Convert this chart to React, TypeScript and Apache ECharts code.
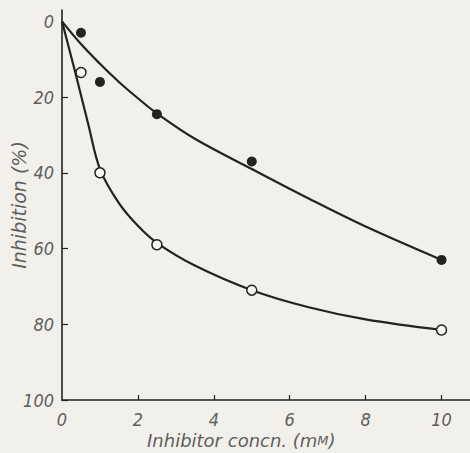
import React, { useEffect, useRef } from "react";
import * as echarts from "echarts";

// Inhibitor concentration (mM) at which inhibition was measured
const concentrations = [0.5, 1, 2.5, 5, 10];
// Measured inhibition (%), filled-circle series
const filledInhibition = [3, 16, 24.5, 37, 63];
// Measured inhibition (%), open-circle series
const openInhibition = [13.5, 40, 59, 71, 81.5];

// Hand-fitted curves drawn through each series (x = mM, y = %)
const filledCurveX = [0, 0.5, 1, 1.5, 2, 2.5, 3.5, 5, 6.5, 8, 10];
const filledCurveY = [0, 6, 11.2, 16, 20.3, 24.3, 31, 39, 46.8, 54.2, 63];
const openCurveX = [0, 0.35, 0.7, 1, 1.5, 2, 2.5, 3.5, 5, 6.5, 8, 10];
const openCurveY = [0, 13.5, 27.5, 39, 48, 54, 58.5, 64.5, 71, 75.5, 78.7, 81.5];

// Axis labels and ticks
const xLabels = [0, 2, 4, 6, 8, 10];
const xTicks = [2, 4, 6, 8, 10];
const yLabels = [0, 20, 40, 60, 80, 100];

const INK = "#222222";
const LABEL = "#5e5e5e";
const PAPER = "#f2f0eb";
const NUM_FONT = "'Liberation Sans Narrow', 'DejaVu Sans Condensed', sans-serif";
const TITLE_FONT = "'DejaVu Sans', sans-serif";

const pairs = (xs: number[], ys: number[]) => xs.map((x, i) => [x, ys[i]]);

const numLabel = {
  color: LABEL,
  fontStyle: "italic",
  fontSize: 18,
  fontFamily: NUM_FONT,
};

export default function App() {
  const ref = useRef<HTMLDivElement>(null);

  useEffect(() => {
    if (!ref.current) return;
    const chart = echarts.init(ref.current, null, { renderer: "svg" });
    chart.setOption({
      animation: false,
      backgroundColor: PAPER,
      grid: {
        left: 62,
        right: 0,
        top: 10,
        bottom: 53,
        containLabel: false,
        outerBoundsMode: "none",
      },
      xAxis: {
        type: "value",
        min: 0,
        max: 10.75,
        splitLine: { show: false },
        axisLine: { show: true, onZero: false, lineStyle: { color: INK, width: 1.6 } },
        axisTick: { show: true, inside: true, length: 5, customValues: xTicks, lineStyle: { color: INK, width: 1.2 } },
        axisLabel: { ...numLabel, customValues: xLabels, margin: 10 },
      },
      yAxis: {
        type: "value",
        inverse: true,
        min: -3,
        max: 100,
        splitLine: { show: false },
        axisLine: { show: true, onZero: false, lineStyle: { color: INK, width: 1.6 } },
        axisTick: { show: true, inside: true, length: 6, customValues: yLabels.slice(1), lineStyle: { color: INK, width: 1.2 } },
        axisLabel: { ...numLabel, customValues: yLabels, margin: 8 },
        name: "Inhibition (%)",
        nameLocation: "middle",
        nameGap: 34,
        nameMoveOverlap: false,
        nameTextStyle: {
          color: LABEL,
          fontStyle: "italic",
          fontSize: 19,
          fontFamily: TITLE_FONT,
        },
      },
      graphic: [
        {
          type: "text",
          left: 147,
          top: 431,
          style: {
            text: "{a|Inhibitor concn. (m}{b|M}{a|)}",
            rich: {
              a: { fontSize: 18, fontStyle: "italic", fontFamily: TITLE_FONT, fill: LABEL },
              b: { fontSize: 13, fontStyle: "italic", fontFamily: TITLE_FONT, fill: LABEL },
            },
          },
        },
      ],
      series: [
        {
          type: "line",
          data: pairs(filledCurveX, filledCurveY),
          smooth: 0.35,
          showSymbol: false,
          lineStyle: { color: INK, width: 2.2 },
          z: 2,
        },
        {
          type: "line",
          data: pairs(openCurveX, openCurveY),
          smooth: 0.35,
          showSymbol: false,
          lineStyle: { color: INK, width: 2.2 },
          z: 2,
        },
        {
          type: "scatter",
          data: pairs(concentrations, filledInhibition),
          symbol: "circle",
          symbolSize: 10,
          itemStyle: { color: INK, opacity: 1 },
          z: 3,
        },
        {
          type: "scatter",
          data: pairs(concentrations, openInhibition),
          symbol: "circle",
          symbolSize: 10,
          itemStyle: { color: "#f8f7f3", borderColor: INK, borderWidth: 1.5, opacity: 1 },
          z: 3,
        },
      ],
    });
    return () => chart.dispose();
  }, []);

  return (
    <div
      ref={ref}
      style={{ position: "absolute", left: 0, top: 0, width: 470, height: 453 }}
    />
  );
}
